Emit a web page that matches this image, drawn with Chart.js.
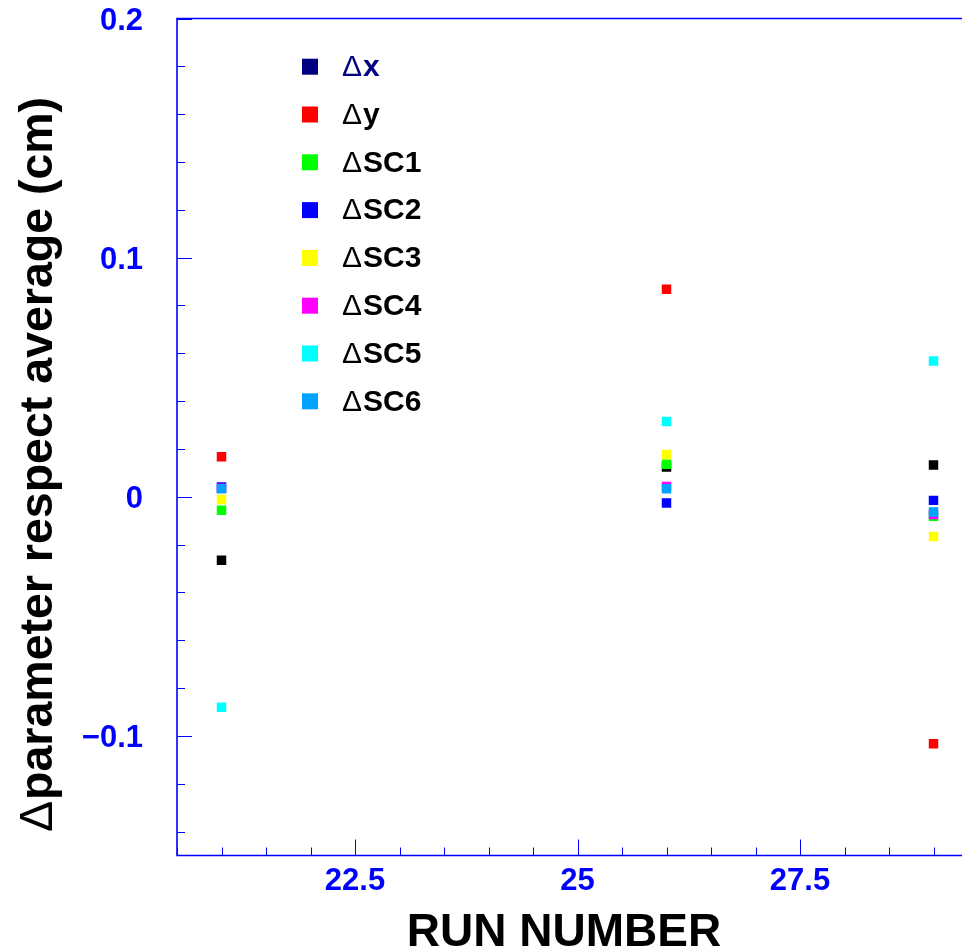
<!DOCTYPE html>
<html>
<head>
<meta charset="utf-8">
<script src="https://cdn.jsdelivr.net/npm/chart.js@4.4.0/dist/chart.umd.min.js"></script>
<style>
  html, body { margin: 0; padding: 0; background: #fff; overflow: hidden; }
  #wrap { width: 1000px; height: 947px; }
</style>
</head>
<body>
<div id="wrap"><canvas id="runChart" width="1000" height="947"></canvas></div>
<script>
// ===== Δparameter vs run number =====

// run numbers (x) and offsets w.r.t. average, in cm
const runs = [21, 26, 29];
const dX   = [-0.0265, 0.0125, 0.0133];
const dY   = [0.0167, 0.0868, -0.1033];
const dSC1 = [-0.0056, 0.0136, -0.0081];
const dSC2 = [0.0041, -0.0026, -0.0015];
const dSC3 = [-0.0011, 0.0177, -0.0166];
const dSC4 = [0.0036, 0.0043, -0.0074];
const dSC5 = [-0.0880, 0.0315, 0.0568];
const dSC6 = [0.0034, 0.0034, -0.0064];

const seriesNames = ['x', 'y', 'SC1', 'SC2', 'SC3', 'SC4', 'SC5', 'SC6'];
const seriesValues = [dX, dY, dSC1, dSC2, dSC3, dSC4, dSC5, dSC6];

// axis ticks
const xTickValues = [22.5, 25, 27.5];
const yTickValues = [-0.1, 0, 0.1, 0.2];
const yTickLabels = ['\u22120.1', '0', '0.1', '0.2'];

// colours
const pointColors  = ['#000000', '#ff0000', '#00ff00', '#0000ff', '#ffff00', '#ff00ff', '#00ffff', '#00a4ff'];
const legendColors = ['#000080', '#ff0000', '#00ff00', '#0000ff', '#ffff00', '#ff00ff', '#00ffff', '#00a4ff'];
const legendText   = ['#000080', '#000', '#000', '#000', '#000', '#000', '#000', '#000'];

const AXIS_BLUE = '#0000ff';
const FONT = "'Liberation Sans', Arial, Helvetica, sans-serif";

// later series are painted on top (lower order = drawn last)
const datasets = seriesNames.map((name, i) => ({
    label: '\u0394' + name,
    data: runs.map((r, j) => ({ x: r, y: seriesValues[i][j] })),
    order: -i,
    pointStyle: 'rect',
    pointRadius: 6.7,
    pointBorderWidth: 0,
    backgroundColor: pointColors[i],
    borderColor: pointColors[i],
    showLine: false
}));

// frame + inward ticks (ROOT style)
const framePlugin = {
    id: 'frame',
    beforeDatasetsDraw(chart) {
        const { ctx, chartArea: a, scales: { x, y } } = chart;
        ctx.save();
        ctx.strokeStyle = AXIS_BLUE;
        ctx.lineWidth = 1;
        ctx.beginPath();
        for (let k = 0; k <= 18; k++) {
            const v = 20.5 + k * 0.5;
            const major = xTickValues.some(t => Math.abs(t - v) < 1e-6);
            const px = Math.round(x.getPixelForValue(v)) + 0.5;
            ctx.moveTo(px, a.bottom);
            ctx.lineTo(px, a.bottom - (major ? 16 : 8));
        }
        for (let k = 0; k <= 17; k++) {
            const v = -0.14 + k * 0.02;
            const major = yTickValues.some(t => Math.abs(t - v) < 1e-6);
            const py = Math.round(y.getPixelForValue(v)) + 0.5;
            ctx.moveTo(a.left, py);
            ctx.lineTo(a.left + (major ? 15 : 8), py);
        }
        ctx.stroke();

        ctx.lineWidth = 1.6;
        ctx.beginPath();
        ctx.moveTo(a.left, a.top);
        ctx.lineTo(a.left, a.bottom);
        ctx.lineTo(a.right, a.bottom);
        ctx.lineTo(a.right, a.top);
        ctx.closePath();
        ctx.stroke();
        ctx.restore();
    }
};

// draws "Δ" in a light face followed by bold text
function deltaText(ctx, rest, size, color) {
    ctx.fillStyle = color;
    ctx.font = 'normal ' + size + 'px ' + FONT;
    ctx.fillText('\u0394', 0, 0);
    const w = ctx.measureText('\u0394').width;
    ctx.font = 'bold ' + size + 'px ' + FONT;
    ctx.fillText(rest, w + 1, 0);
}

const labelsPlugin = {
    id: 'labels',
    afterDraw(chart) {
        const { ctx } = chart;
        ctx.save();
        // y title
        ctx.save();
        ctx.translate(52, 832);
        ctx.rotate(-Math.PI / 2);
        ctx.textAlign = 'left';
        ctx.textBaseline = 'alphabetic';
        deltaText(ctx, 'parameter respect average (cm)', 46.5, '#000');
        ctx.restore();

        // x title
        ctx.font = 'bold 46px ' + FONT;
        ctx.fillStyle = '#000';
        ctx.textAlign = 'center';
        ctx.textBaseline = 'alphabetic';
        ctx.fillText('RUN NUMBER', 564, 946);

        // legend
        chart.data.datasets.forEach((ds, i) => {
            const cy = 66.7 + i * 47.8;
            ctx.fillStyle = legendColors[i];
            ctx.fillRect(302, cy - 8, 16, 16);
            ctx.save();
            ctx.translate(342, cy + 1);
            ctx.textAlign = 'left';
            ctx.textBaseline = 'middle';
            deltaText(ctx, ds.label.slice(1), 30, legendText[i]);
            ctx.restore();
        });
        ctx.restore();
    }
};

new Chart(document.getElementById('runChart'), {
    type: 'scatter',
    data: { datasets },
    options: {
        responsive: false,
        animation: false,
        devicePixelRatio: 1,
        layout: { padding: { top: 18.5, right: 22, left: 0, bottom: 0 } },
        plugins: { legend: { display: false }, tooltip: { enabled: false } },
        scales: {
            x: {
                type: 'linear',
                position: 'bottom',
                min: 20.5,
                max: 29.5,
                grid: { display: false, drawTicks: false },
                border: { display: false },
                afterFit: s => { s.height = 91.5; s.paddingLeft = 0; s.paddingRight = 0; },
                afterBuildTicks: s => { s.ticks = xTickValues.map(v => ({ value: v })); },
                ticks: {
                    color: AXIS_BLUE,
                    font: { family: FONT, size: 31, weight: 'bold', lineHeight: 1 },
                    padding: 10.5,
                    maxRotation: 0,
                    autoSkip: false,
                    callback: v => String(v)
                }
            },
            y: {
                type: 'linear',
                min: -0.15,
                max: 0.2,
                grid: { display: false, drawTicks: false },
                border: { display: false },
                afterFit: s => { s.width = 177; s.paddingTop = 0; s.paddingBottom = 0; },
                afterBuildTicks: s => { s.ticks = yTickValues.map(v => ({ value: v })); },
                ticks: {
                    color: AXIS_BLUE,
                    font: { family: FONT, size: 31, weight: 'bold', lineHeight: 1 },
                    padding: 34,
                    labelOffset: 2.5,
                    autoSkip: false,
                    callback: (v, i) => yTickLabels[i]
                }
            }
        }
    },
    plugins: [framePlugin, labelsPlugin]
});
</script>
</body>
</html>
